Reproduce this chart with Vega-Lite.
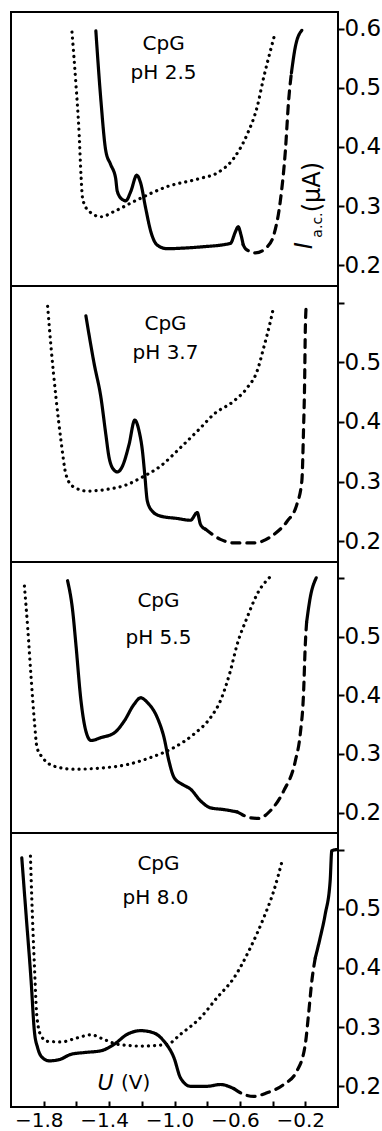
{
  "$schema": "https://vega.github.io/schema/vega-lite/v6.json",
  "padding": {"left": 10, "top": 11, "right": 0, "bottom": 0},
  "spacing": 0,
  "bounds": "flush",
  "config": {
    "view": {"stroke": "black", "strokeWidth": 2},
    "axis": {"labelFont": "DejaVu Sans", "labelColor": "black", "tickColor": "black", "domain": false, "grid": false, "title": null},
    "text": {"font": "DejaVu Sans", "color": "black"}
  },
  "vconcat": [
    {
      "width": 327, "height": 274,
      "layer": [
        {
          "data": {"values": [
            {"x": -1.481, "y": 0.596, "curve": "CpG", "part": "a"},
            {"x": -1.45, "y": 0.478, "curve": "CpG", "part": "a"},
            {"x": -1.42, "y": 0.393, "curve": "CpG", "part": "a"},
            {"x": -1.39, "y": 0.37, "curve": "CpG", "part": "a"},
            {"x": -1.36, "y": 0.347, "curve": "CpG", "part": "a"},
            {"x": -1.35, "y": 0.325, "curve": "CpG", "part": "a"},
            {"x": -1.318, "y": 0.311, "curve": "CpG", "part": "a"},
            {"x": -1.298, "y": 0.309, "curve": "CpG", "part": "a"},
            {"x": -1.267, "y": 0.325, "curve": "CpG", "part": "a"},
            {"x": -1.231, "y": 0.352, "curve": "CpG", "part": "a"},
            {"x": -1.207, "y": 0.339, "curve": "CpG", "part": "a"},
            {"x": -1.176, "y": 0.296, "curve": "CpG", "part": "a"},
            {"x": -1.145, "y": 0.257, "curve": "CpG", "part": "a"},
            {"x": -1.105, "y": 0.234, "curve": "CpG", "part": "a"},
            {"x": -1.044, "y": 0.228, "curve": "CpG", "part": "a"},
            {"x": -0.95, "y": 0.229, "curve": "CpG", "part": "a"},
            {"x": -0.841, "y": 0.231, "curve": "CpG", "part": "a"},
            {"x": -0.658, "y": 0.237, "curve": "CpG", "part": "a"},
            {"x": -0.627, "y": 0.257, "curve": "CpG", "part": "a"},
            {"x": -0.611, "y": 0.265, "curve": "CpG", "part": "a"},
            {"x": -0.593, "y": 0.251, "curve": "CpG", "part": "a"},
            {"x": -0.58, "y": 0.235, "curve": "CpG", "part": "a"},
            {"x": -0.58, "y": 0.235, "curve": "CpG (dashed)", "part": "b"},
            {"x": -0.566, "y": 0.228, "curve": "CpG (dashed)", "part": "b"},
            {"x": -0.505, "y": 0.221, "curve": "CpG (dashed)", "part": "b"},
            {"x": -0.434, "y": 0.231, "curve": "CpG (dashed)", "part": "b"},
            {"x": -0.393, "y": 0.251, "curve": "CpG (dashed)", "part": "b"},
            {"x": -0.353, "y": 0.308, "curve": "CpG (dashed)", "part": "b"},
            {"x": -0.322, "y": 0.393, "curve": "CpG (dashed)", "part": "b"},
            {"x": -0.302, "y": 0.478, "curve": "CpG (dashed)", "part": "b"},
            {"x": -0.285, "y": 0.525, "curve": "CpG (dashed)", "part": "b"},
            {"x": -0.285, "y": 0.525, "curve": "CpG", "part": "c"},
            {"x": -0.261, "y": 0.569, "curve": "CpG", "part": "c"},
            {"x": -0.221, "y": 0.597, "curve": "CpG", "part": "c"},
            {"x": -1.627, "y": 0.594, "curve": "electrolyte", "part": "d"},
            {"x": -1.603, "y": 0.506, "curve": "electrolyte", "part": "d"},
            {"x": -1.583, "y": 0.421, "curve": "electrolyte", "part": "d"},
            {"x": -1.572, "y": 0.353, "curve": "electrolyte", "part": "d"},
            {"x": -1.562, "y": 0.313, "curve": "electrolyte", "part": "d"},
            {"x": -1.532, "y": 0.294, "curve": "electrolyte", "part": "d"},
            {"x": -1.45, "y": 0.282, "curve": "electrolyte", "part": "d"},
            {"x": -1.369, "y": 0.291, "curve": "electrolyte", "part": "d"},
            {"x": -1.247, "y": 0.308, "curve": "electrolyte", "part": "d"},
            {"x": -1.044, "y": 0.333, "curve": "electrolyte", "part": "d"},
            {"x": -0.841, "y": 0.347, "curve": "electrolyte", "part": "d"},
            {"x": -0.739, "y": 0.356, "curve": "electrolyte", "part": "d"},
            {"x": -0.637, "y": 0.381, "curve": "electrolyte", "part": "d"},
            {"x": -0.556, "y": 0.421, "curve": "electrolyte", "part": "d"},
            {"x": -0.495, "y": 0.467, "curve": "electrolyte", "part": "d"},
            {"x": -0.454, "y": 0.518, "curve": "electrolyte", "part": "d"},
            {"x": -0.413, "y": 0.563, "curve": "electrolyte", "part": "d"},
            {"x": -0.383, "y": 0.594, "curve": "electrolyte", "part": "d"}
          ]},
          "mark": {"type": "line", "interpolate": "monotone", "strokeWidth": 3.2, "strokeCap": "round", "strokeJoin": "round", "color": "black"},
          "encoding": {
            "x": {"field": "x", "type": "quantitative", "scale": {"domain": [-2, 0], "nice": false, "zero": false}, "axis": null},
            "y": {"field": "y", "type": "quantitative", "scale": {"domain": [0.165, 0.628], "nice": false, "zero": false},
                  "axis": {"orient": "right", "values": [0.2, 0.3, 0.4, 0.5, 0.6], "format": ".1f", "labelFontSize": 23, "tickSize": 6, "tickWidth": 2, "labelPadding": 0}},
            "detail": {"field": "part"},
            "strokeDash": {"field": "curve", "type": "nominal", "scale": {"domain": ["CpG", "CpG (dashed)", "electrolyte"], "range": [[1, 0], [8, 7], [0.1, 6]]}, "legend": null}
          }
        },
        {
          "data": {"values": [
            {"x": -1.067, "y": 0.574, "label": "CpG"},
            {"x": -1.067, "y": 0.525, "label": "pH 2.5"}
          ]},
          "mark": {"type": "text", "fontSize": 20},
          "encoding": {"x": {"field": "x", "type": "quantitative"}, "y": {"field": "y", "type": "quantitative"}, "text": {"field": "label"}}
        },
        {
          "data": {"values": [{"x": -0.201, "y": 0.233, "label": "I"}]},
          "mark": {"type": "text", "fontSize": 24, "fontStyle": "italic", "angle": 270},
          "encoding": {"x": {"field": "x", "type": "quantitative"}, "y": {"field": "y", "type": "quantitative"}, "text": {"field": "label"}}
        },
        {
          "data": {"values": [{"x": -0.122, "y": 0.268, "label": "a.c."}]},
          "mark": {"type": "text", "fontSize": 14, "angle": 270},
          "encoding": {"x": {"field": "x", "type": "quantitative"}, "y": {"field": "y", "type": "quantitative"}, "text": {"field": "label"}}
        },
        {
          "data": {"values": [{"x": -0.152, "y": 0.332, "label": "(μA)"}]},
          "mark": {"type": "text", "fontSize": 24, "angle": 270},
          "encoding": {"x": {"field": "x", "type": "quantitative"}, "y": {"field": "y", "type": "quantitative"}, "text": {"field": "label"}}
        }
      ]
    },
    {
      "width": 327, "height": 276,
      "layer": [
        {
          "data": {"values": [
            {"x": -1.542, "y": 0.578, "curve": "CpG", "part": "a"},
            {"x": -1.491, "y": 0.497, "curve": "CpG", "part": "a"},
            {"x": -1.45, "y": 0.441, "curve": "CpG", "part": "a"},
            {"x": -1.42, "y": 0.379, "curve": "CpG", "part": "a"},
            {"x": -1.4, "y": 0.34, "curve": "CpG", "part": "a"},
            {"x": -1.369, "y": 0.319, "curve": "CpG", "part": "a"},
            {"x": -1.349, "y": 0.316, "curve": "CpG", "part": "a"},
            {"x": -1.318, "y": 0.326, "curve": "CpG", "part": "a"},
            {"x": -1.278, "y": 0.362, "curve": "CpG", "part": "a"},
            {"x": -1.243, "y": 0.403, "curve": "CpG", "part": "a"},
            {"x": -1.217, "y": 0.385, "curve": "CpG", "part": "a"},
            {"x": -1.196, "y": 0.351, "curve": "CpG", "part": "a"},
            {"x": -1.182, "y": 0.312, "curve": "CpG", "part": "a"},
            {"x": -1.166, "y": 0.267, "curve": "CpG", "part": "a"},
            {"x": -1.135, "y": 0.25, "curve": "CpG", "part": "a"},
            {"x": -1.085, "y": 0.242, "curve": "CpG", "part": "a"},
            {"x": -0.983, "y": 0.238, "curve": "CpG", "part": "a"},
            {"x": -0.902, "y": 0.235, "curve": "CpG", "part": "a"},
            {"x": -0.861, "y": 0.248, "curve": "CpG", "part": "a"},
            {"x": -0.841, "y": 0.228, "curve": "CpG", "part": "a"},
            {"x": -0.81, "y": 0.22, "curve": "CpG", "part": "a"},
            {"x": -0.81, "y": 0.22, "curve": "CpG (dashed)", "part": "b"},
            {"x": -0.719, "y": 0.203, "curve": "CpG (dashed)", "part": "b"},
            {"x": -0.637, "y": 0.197, "curve": "CpG (dashed)", "part": "b"},
            {"x": -0.515, "y": 0.197, "curve": "CpG (dashed)", "part": "b"},
            {"x": -0.393, "y": 0.211, "curve": "CpG (dashed)", "part": "b"},
            {"x": -0.312, "y": 0.233, "curve": "CpG (dashed)", "part": "b"},
            {"x": -0.251, "y": 0.262, "curve": "CpG (dashed)", "part": "b"},
            {"x": -0.221, "y": 0.301, "curve": "CpG (dashed)", "part": "b"},
            {"x": -0.211, "y": 0.385, "curve": "CpG (dashed)", "part": "b"},
            {"x": -0.204, "y": 0.469, "curve": "CpG (dashed)", "part": "b"},
            {"x": -0.2, "y": 0.553, "curve": "CpG (dashed)", "part": "b"},
            {"x": -0.194, "y": 0.596, "curve": "CpG (dashed)", "part": "b"},
            {"x": -1.776, "y": 0.594, "curve": "electrolyte", "part": "d"},
            {"x": -1.755, "y": 0.525, "curve": "electrolyte", "part": "d"},
            {"x": -1.725, "y": 0.441, "curve": "electrolyte", "part": "d"},
            {"x": -1.694, "y": 0.368, "curve": "electrolyte", "part": "d"},
            {"x": -1.664, "y": 0.312, "curve": "electrolyte", "part": "d"},
            {"x": -1.623, "y": 0.292, "curve": "electrolyte", "part": "d"},
            {"x": -1.532, "y": 0.284, "curve": "electrolyte", "part": "d"},
            {"x": -1.41, "y": 0.287, "curve": "electrolyte", "part": "d"},
            {"x": -1.288, "y": 0.295, "curve": "electrolyte", "part": "d"},
            {"x": -1.207, "y": 0.306, "curve": "electrolyte", "part": "d"},
            {"x": -1.085, "y": 0.326, "curve": "electrolyte", "part": "d"},
            {"x": -0.963, "y": 0.357, "curve": "electrolyte", "part": "d"},
            {"x": -0.841, "y": 0.39, "curve": "electrolyte", "part": "d"},
            {"x": -0.759, "y": 0.413, "curve": "electrolyte", "part": "d"},
            {"x": -0.637, "y": 0.435, "curve": "electrolyte", "part": "d"},
            {"x": -0.556, "y": 0.457, "curve": "electrolyte", "part": "d"},
            {"x": -0.495, "y": 0.485, "curve": "electrolyte", "part": "d"},
            {"x": -0.454, "y": 0.525, "curve": "electrolyte", "part": "d"},
            {"x": -0.413, "y": 0.569, "curve": "electrolyte", "part": "d"},
            {"x": -0.393, "y": 0.594, "curve": "electrolyte", "part": "d"}
          ]},
          "mark": {"type": "line", "interpolate": "monotone", "strokeWidth": 3.2, "strokeCap": "round", "strokeJoin": "round", "color": "black"},
          "encoding": {
            "x": {"field": "x", "type": "quantitative", "scale": {"domain": [-2, 0], "nice": false, "zero": false}, "axis": null},
            "y": {"field": "y", "type": "quantitative", "scale": {"domain": [0.165, 0.628], "nice": false, "zero": false},
                  "axis": {"orient": "right", "values": [0.2, 0.3, 0.4, 0.5, 0.6], "format": ".1f", "labelExpr": "datum.value > 0.55 ? '' : datum.label", "labelFontSize": 23, "tickSize": 6, "tickWidth": 2, "labelPadding": 0}},
            "detail": {"field": "part"},
            "strokeDash": {"field": "curve", "type": "nominal", "scale": {"domain": ["CpG", "CpG (dashed)", "electrolyte"], "range": [[1, 0], [8, 7], [0.1, 6]]}, "legend": null}
          }
        },
        {
          "data": {"values": [
            {"x": -1.055, "y": 0.564, "label": "CpG"},
            {"x": -1.055, "y": 0.516, "label": "pH 3.7"}
          ]},
          "mark": {"type": "text", "fontSize": 20},
          "encoding": {"x": {"field": "x", "type": "quantitative"}, "y": {"field": "y", "type": "quantitative"}, "text": {"field": "label"}}
        }
      ]
    },
    {
      "width": 327, "height": 271,
      "layer": [
        {
          "data": {"values": [
            {"x": -1.654, "y": 0.596, "curve": "CpG", "part": "a"},
            {"x": -1.623, "y": 0.545, "curve": "CpG", "part": "a"},
            {"x": -1.603, "y": 0.487, "curve": "CpG", "part": "a"},
            {"x": -1.572, "y": 0.391, "curve": "CpG", "part": "a"},
            {"x": -1.542, "y": 0.339, "curve": "CpG", "part": "a"},
            {"x": -1.511, "y": 0.323, "curve": "CpG", "part": "a"},
            {"x": -1.45, "y": 0.328, "curve": "CpG", "part": "a"},
            {"x": -1.369, "y": 0.336, "curve": "CpG", "part": "a"},
            {"x": -1.308, "y": 0.356, "curve": "CpG", "part": "a"},
            {"x": -1.247, "y": 0.385, "curve": "CpG", "part": "a"},
            {"x": -1.207, "y": 0.396, "curve": "CpG", "part": "a"},
            {"x": -1.166, "y": 0.388, "curve": "CpG", "part": "a"},
            {"x": -1.105, "y": 0.362, "curve": "CpG", "part": "a"},
            {"x": -1.064, "y": 0.328, "curve": "CpG", "part": "a"},
            {"x": -1.034, "y": 0.288, "curve": "CpG", "part": "a"},
            {"x": -1.003, "y": 0.26, "curve": "CpG", "part": "a"},
            {"x": -0.952, "y": 0.248, "curve": "CpG", "part": "a"},
            {"x": -0.902, "y": 0.24, "curve": "CpG", "part": "a"},
            {"x": -0.841, "y": 0.22, "curve": "CpG", "part": "a"},
            {"x": -0.78, "y": 0.208, "curve": "CpG", "part": "a"},
            {"x": -0.698, "y": 0.205, "curve": "CpG", "part": "a"},
            {"x": -0.617, "y": 0.201, "curve": "CpG", "part": "a"},
            {"x": -0.617, "y": 0.201, "curve": "CpG (dashed)", "part": "b"},
            {"x": -0.597, "y": 0.198, "curve": "CpG (dashed)", "part": "b"},
            {"x": -0.536, "y": 0.191, "curve": "CpG (dashed)", "part": "b"},
            {"x": -0.485, "y": 0.19, "curve": "CpG (dashed)", "part": "b"},
            {"x": -0.414, "y": 0.203, "curve": "CpG (dashed)", "part": "b"},
            {"x": -0.332, "y": 0.237, "curve": "CpG (dashed)", "part": "b"},
            {"x": -0.261, "y": 0.288, "curve": "CpG (dashed)", "part": "b"},
            {"x": -0.231, "y": 0.334, "curve": "CpG (dashed)", "part": "b"},
            {"x": -0.211, "y": 0.402, "curve": "CpG (dashed)", "part": "b"},
            {"x": -0.2, "y": 0.487, "curve": "CpG (dashed)", "part": "b"},
            {"x": -0.192, "y": 0.525, "curve": "CpG (dashed)", "part": "b"},
            {"x": -0.192, "y": 0.525, "curve": "CpG", "part": "c"},
            {"x": -0.17, "y": 0.567, "curve": "CpG", "part": "c"},
            {"x": -0.133, "y": 0.601, "curve": "CpG", "part": "c"},
            {"x": -1.918, "y": 0.587, "curve": "electrolyte", "part": "d"},
            {"x": -1.898, "y": 0.516, "curve": "electrolyte", "part": "d"},
            {"x": -1.877, "y": 0.43, "curve": "electrolyte", "part": "d"},
            {"x": -1.857, "y": 0.356, "curve": "electrolyte", "part": "d"},
            {"x": -1.841, "y": 0.311, "curve": "electrolyte", "part": "d"},
            {"x": -1.807, "y": 0.294, "curve": "electrolyte", "part": "d"},
            {"x": -1.735, "y": 0.279, "curve": "electrolyte", "part": "d"},
            {"x": -1.613, "y": 0.274, "curve": "electrolyte", "part": "d"},
            {"x": -1.45, "y": 0.276, "curve": "electrolyte", "part": "d"},
            {"x": -1.288, "y": 0.282, "curve": "electrolyte", "part": "d"},
            {"x": -1.146, "y": 0.294, "curve": "electrolyte", "part": "d"},
            {"x": -1.003, "y": 0.311, "curve": "electrolyte", "part": "d"},
            {"x": -0.881, "y": 0.334, "curve": "electrolyte", "part": "d"},
            {"x": -0.78, "y": 0.362, "curve": "electrolyte", "part": "d"},
            {"x": -0.719, "y": 0.391, "curve": "electrolyte", "part": "d"},
            {"x": -0.658, "y": 0.442, "curve": "electrolyte", "part": "d"},
            {"x": -0.617, "y": 0.487, "curve": "electrolyte", "part": "d"},
            {"x": -0.556, "y": 0.533, "curve": "electrolyte", "part": "d"},
            {"x": -0.495, "y": 0.573, "curve": "electrolyte", "part": "d"},
            {"x": -0.41, "y": 0.604, "curve": "electrolyte", "part": "d"}
          ]},
          "mark": {"type": "line", "interpolate": "monotone", "strokeWidth": 3.2, "strokeCap": "round", "strokeJoin": "round", "color": "black"},
          "encoding": {
            "x": {"field": "x", "type": "quantitative", "scale": {"domain": [-2, 0], "nice": false, "zero": false}, "axis": null},
            "y": {"field": "y", "type": "quantitative", "scale": {"domain": [0.165, 0.628], "nice": false, "zero": false},
                  "axis": {"orient": "right", "values": [0.2, 0.3, 0.4, 0.5, 0.6], "format": ".1f", "labelExpr": "datum.value > 0.55 ? '' : datum.label", "labelFontSize": 23, "tickSize": 6, "tickWidth": 2, "labelPadding": 0}},
            "detail": {"field": "part"},
            "strokeDash": {"field": "curve", "type": "nominal", "scale": {"domain": ["CpG", "CpG (dashed)", "electrolyte"], "range": [[1, 0], [8, 7], [0.1, 6]]}, "legend": null}
          }
        },
        {
          "data": {"values": [
            {"x": -1.098, "y": 0.561, "label": "CpG"},
            {"x": -1.098, "y": 0.498, "label": "pH 5.5"}
          ]},
          "mark": {"type": "text", "fontSize": 20},
          "encoding": {"x": {"field": "x", "type": "quantitative"}, "y": {"field": "y", "type": "quantitative"}, "text": {"field": "label"}}
        }
      ]
    },
    {
      "width": 327, "height": 274,
      "layer": [
        {
          "data": {"values": [
            {"x": -1.934, "y": 0.586, "curve": "CpG", "part": "a"},
            {"x": -1.908, "y": 0.491, "curve": "CpG", "part": "a"},
            {"x": -1.877, "y": 0.378, "curve": "CpG", "part": "a"},
            {"x": -1.857, "y": 0.293, "curve": "CpG", "part": "a"},
            {"x": -1.837, "y": 0.265, "curve": "CpG", "part": "a"},
            {"x": -1.806, "y": 0.248, "curve": "CpG", "part": "a"},
            {"x": -1.765, "y": 0.243, "curve": "CpG", "part": "a"},
            {"x": -1.705, "y": 0.245, "curve": "CpG", "part": "a"},
            {"x": -1.633, "y": 0.254, "curve": "CpG", "part": "a"},
            {"x": -1.552, "y": 0.257, "curve": "CpG", "part": "a"},
            {"x": -1.45, "y": 0.26, "curve": "CpG", "part": "a"},
            {"x": -1.369, "y": 0.271, "curve": "CpG", "part": "a"},
            {"x": -1.288, "y": 0.288, "curve": "CpG", "part": "a"},
            {"x": -1.207, "y": 0.294, "curve": "CpG", "part": "a"},
            {"x": -1.125, "y": 0.29, "curve": "CpG", "part": "a"},
            {"x": -1.064, "y": 0.276, "curve": "CpG", "part": "a"},
            {"x": -1.003, "y": 0.248, "curve": "CpG", "part": "a"},
            {"x": -0.963, "y": 0.214, "curve": "CpG", "part": "a"},
            {"x": -0.902, "y": 0.2, "curve": "CpG", "part": "a"},
            {"x": -0.8, "y": 0.2, "curve": "CpG", "part": "a"},
            {"x": -0.719, "y": 0.203, "curve": "CpG", "part": "a"},
            {"x": -0.637, "y": 0.196, "curve": "CpG", "part": "a"},
            {"x": -0.637, "y": 0.196, "curve": "CpG (dashed)", "part": "b"},
            {"x": -0.597, "y": 0.189, "curve": "CpG (dashed)", "part": "b"},
            {"x": -0.515, "y": 0.183, "curve": "CpG (dashed)", "part": "b"},
            {"x": -0.434, "y": 0.189, "curve": "CpG (dashed)", "part": "b"},
            {"x": -0.332, "y": 0.203, "curve": "CpG (dashed)", "part": "b"},
            {"x": -0.251, "y": 0.226, "curve": "CpG (dashed)", "part": "b"},
            {"x": -0.2, "y": 0.271, "curve": "CpG (dashed)", "part": "b"},
            {"x": -0.18, "y": 0.322, "curve": "CpG (dashed)", "part": "b"},
            {"x": -0.16, "y": 0.378, "curve": "CpG (dashed)", "part": "b"},
            {"x": -0.139, "y": 0.417, "curve": "CpG (dashed)", "part": "b"},
            {"x": -0.139, "y": 0.417, "curve": "CpG", "part": "c"},
            {"x": -0.109, "y": 0.451, "curve": "CpG", "part": "c"},
            {"x": -0.078, "y": 0.491, "curve": "CpG", "part": "c"},
            {"x": -0.048, "y": 0.547, "curve": "CpG", "part": "c"},
            {"x": -0.038, "y": 0.598, "curve": "CpG", "part": "c"},
            {"x": -0.007, "y": 0.6, "curve": "CpG", "part": "c"},
            {"x": -1.881, "y": 0.589, "curve": "electrolyte", "part": "d"},
            {"x": -1.873, "y": 0.519, "curve": "electrolyte", "part": "d"},
            {"x": -1.857, "y": 0.406, "curve": "electrolyte", "part": "d"},
            {"x": -1.841, "y": 0.316, "curve": "electrolyte", "part": "d"},
            {"x": -1.816, "y": 0.285, "curve": "electrolyte", "part": "d"},
            {"x": -1.776, "y": 0.276, "curve": "electrolyte", "part": "d"},
            {"x": -1.694, "y": 0.275, "curve": "electrolyte", "part": "d"},
            {"x": -1.593, "y": 0.282, "curve": "electrolyte", "part": "d"},
            {"x": -1.511, "y": 0.287, "curve": "electrolyte", "part": "d"},
            {"x": -1.43, "y": 0.279, "curve": "electrolyte", "part": "d"},
            {"x": -1.349, "y": 0.271, "curve": "electrolyte", "part": "d"},
            {"x": -1.207, "y": 0.268, "curve": "electrolyte", "part": "d"},
            {"x": -1.044, "y": 0.271, "curve": "electrolyte", "part": "d"},
            {"x": -0.963, "y": 0.288, "curve": "electrolyte", "part": "d"},
            {"x": -0.841, "y": 0.316, "curve": "electrolyte", "part": "d"},
            {"x": -0.739, "y": 0.35, "curve": "electrolyte", "part": "d"},
            {"x": -0.637, "y": 0.383, "curve": "electrolyte", "part": "d"},
            {"x": -0.536, "y": 0.434, "curve": "electrolyte", "part": "d"},
            {"x": -0.454, "y": 0.485, "curve": "electrolyte", "part": "d"},
            {"x": -0.393, "y": 0.53, "curve": "electrolyte", "part": "d"},
            {"x": -0.337, "y": 0.586, "curve": "electrolyte", "part": "d"}
          ]},
          "mark": {"type": "line", "interpolate": "monotone", "strokeWidth": 3.2, "strokeCap": "round", "strokeJoin": "round", "color": "black"},
          "encoding": {
            "x": {"field": "x", "type": "quantitative", "scale": {"domain": [-2, 0], "nice": false, "zero": false},
                  "axis": {"orient": "bottom", "values": [-1.8, -1.6, -1.4, -1.2, -1.0, -0.8, -0.6, -0.4, -0.2], "format": ".1f", "labelExpr": "abs(round(datum.value * 10)) % 4 == 2 ? datum.label : ''", "labelFontSize": 20, "tickSize": -6, "tickWidth": 2, "labelPadding": 9, "labelFlush": false, "labelOverlap": false, "labelOffset": -5}},
            "y": {"field": "y", "type": "quantitative", "scale": {"domain": [0.165, 0.628], "nice": false, "zero": false},
                  "axis": {"orient": "right", "values": [0.2, 0.3, 0.4, 0.5, 0.6], "format": ".1f", "labelExpr": "datum.value > 0.55 ? '' : datum.label", "labelFontSize": 23, "tickSize": 6, "tickWidth": 2, "labelPadding": 0}},
            "detail": {"field": "part"},
            "strokeDash": {"field": "curve", "type": "nominal", "scale": {"domain": ["CpG", "CpG (dashed)", "electrolyte"], "range": [[1, 0], [8, 7], [0.1, 6]]}, "legend": null}
          }
        },
        {
          "data": {"values": [
            {"x": -1.098, "y": 0.576, "label": "CpG"},
            {"x": -1.116, "y": 0.518, "label": "pH 8.0"},
            {"x": -1.238, "y": 0.2056, "label": "(V)"}
          ]},
          "mark": {"type": "text", "fontSize": 20},
          "encoding": {"x": {"field": "x", "type": "quantitative"}, "y": {"field": "y", "type": "quantitative"}, "text": {"field": "label"}}
        },
        {
          "data": {"values": [{"x": -1.421, "y": 0.2056, "label": "U"}]},
          "mark": {"type": "text", "fontSize": 22, "fontStyle": "italic"},
          "encoding": {"x": {"field": "x", "type": "quantitative"}, "y": {"field": "y", "type": "quantitative"}, "text": {"field": "label"}}
        }
      ]
    }
  ]
}
